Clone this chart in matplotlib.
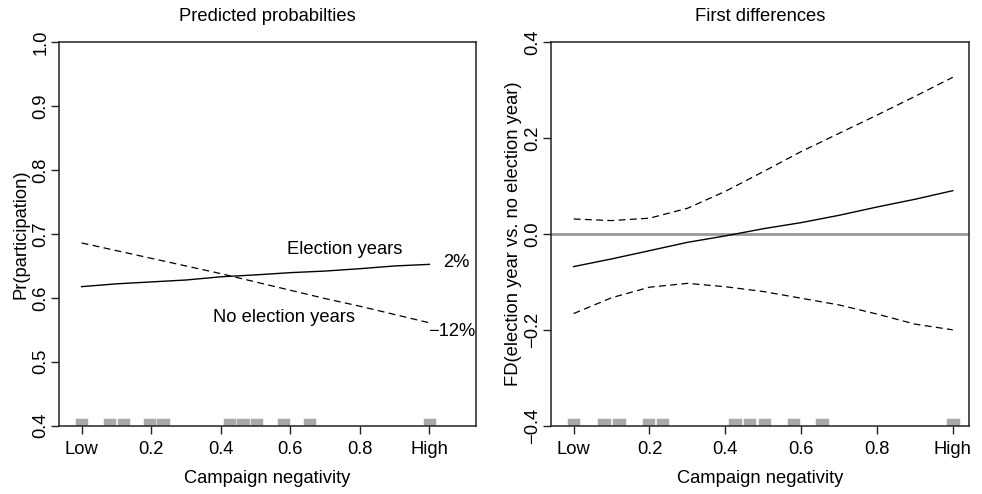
import numpy as np
import matplotlib
matplotlib.use("Agg")
import matplotlib.pyplot as plt

plt.rcParams['font.family'] = ['Liberation Sans', 'DejaVu Sans']

# campaign negativity grid
neg = [0.0, 0.1, 0.2, 0.3, 0.4, 0.5, 0.6, 0.7, 0.8, 0.9, 1.0]

# predicted probabilities
pr_election = [0.6176, 0.622, 0.625, 0.628, 0.633, 0.636, 0.6395, 0.642, 0.6457, 0.650, 0.6525]
pr_no_election = [0.686, 0.674, 0.662, 0.650, 0.638, 0.625, 0.612, 0.599, 0.587, 0.574, 0.561]

# first differences with bounds
fd_mean = [-0.068, -0.052, -0.0348, -0.0174, -0.004, 0.011, 0.0237, 0.039, 0.0563, 0.0724, 0.0904]
fd_upper = [0.0313, 0.028, 0.033, 0.0536, 0.089, 0.130, 0.172, 0.210, 0.248, 0.287, 0.327]
fd_lower = [-0.166, -0.133, -0.111, -0.103, -0.110, -0.120, -0.134, -0.148, -0.167, -0.188, -0.200]

# observed values (rug)
rug = [0.0, 0.08, 0.12, 0.197, 0.234, 0.426, 0.464, 0.503, 0.58, 0.655, 1.0]

x_ticks = [0, 0.2, 0.4, 0.6, 0.8, 1.0]
x_ticklabels = ['Low', '0.2', '0.4', '0.6', '0.8', 'High']

FS = 13.2
W, H = 982, 494
fig = plt.figure(figsize=(W / 100, H / 100), dpi=100)

ax1 = fig.add_axes([59 / W, 1 - 425.7 / H, (476 - 59) / W, (425.7 - 42.3) / H])
ax2 = fig.add_axes([551.3 / W, 1 - 425.7 / H, (968.7 - 551.3) / W, (425.7 - 42.3) / H])

dash = (0, (5.5, 3.5))
gray = '#a9a9a9'


def style(ax, ylim, yticks):
    ax.set_ylim(ylim)
    ax.set_xticks(x_ticks)
    ax.set_xticklabels(x_ticklabels, fontsize=FS)
    ax.set_yticks(yticks)
    ax.set_yticklabels([f'{t:.1f}'.replace('-', '\u2212') for t in yticks],
                       fontsize=FS, rotation=90, va='center')
    ax.tick_params(direction='out', length=6, width=1.0, color='#222222', pad=5)
    ax.tick_params(axis='y', pad=1)
    for s in ax.spines.values():
        s.set_linewidth(1.1)
        s.set_color('#222222')
    ax.set_xlabel('Campaign negativity', fontsize=FS, labelpad=9)


# left panel
ax1.plot(neg, pr_election, color='black', lw=1.0)
ax1.plot(neg, pr_no_election, color='black', lw=0.9, linestyle=dash)
ax1.bar(rug, 0.0125, width=0.039, bottom=0.4, color=gray, edgecolor='white', linewidth=0.4)
ax1.text(0.757, 0.675, 'Election years', fontsize=FS, ha='center', va='center')
ax1.text(1.076, 0.6547, '2%', fontsize=FS, ha='center', va='center')
ax1.text(0.581, 0.570, 'No election years', fontsize=FS, ha='center', va='center')
ax1.text(1.065, 0.5467, '\u221212%', fontsize=FS, ha='center', va='center')
style(ax1, (0.4, 1.0), [0.4, 0.5, 0.6, 0.7, 0.8, 0.9, 1.0])
ax1.set_xlim(-0.065, 1.134)
ax1.set_ylabel('Pr(participation)', fontsize=FS, labelpad=2)
ax1.set_title('Predicted probabilties', fontsize=FS, pad=15)

# right panel
ax2.axhline(0, color='#999999', lw=2.0)
ax2.plot(neg, fd_mean, color='black', lw=1.0)
ax2.plot(neg, fd_upper, color='black', lw=0.9, linestyle=dash)
ax2.plot(neg, fd_lower, color='black', lw=0.9, linestyle=dash)
ax2.bar(rug, 0.0167, width=0.0357, bottom=-0.4, color=gray, edgecolor='white', linewidth=0.4)
style(ax2, (-0.4, 0.4), [-0.4, -0.2, 0.0, 0.2, 0.4])
ax2.set_xlim(-0.059, 1.042)
ax2.set_ylabel('FD(election year vs. no election year)', fontsize=FS, labelpad=2)
ax2.set_title('First differences', fontsize=FS, pad=15)

fig.savefig('out.png', dpi=100)
